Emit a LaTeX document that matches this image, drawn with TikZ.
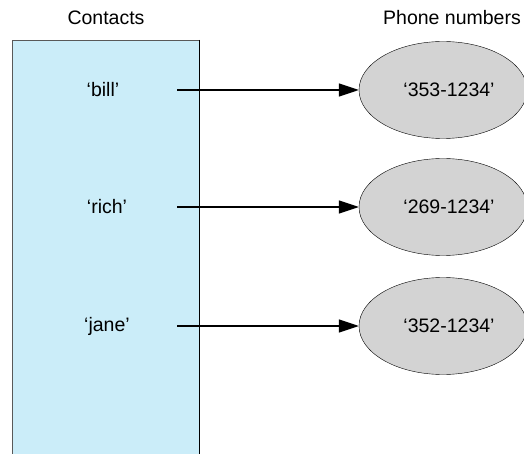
\documentclass[tikz,border=0pt]{standalone}
\usepackage{fontspec}
\setmainfont{Liberation Sans}
\usepackage{tikz}
\usetikzlibrary{arrows}
\usetikzlibrary{shapes.geometric, arrows, arrows.meta, positioning}
\definecolor{contactblue}{HTML}{CBEDF9}
\definecolor{phonegray}{HTML}{D3D3D3}
\tikzstyle{arrow} = [line width=1.4pt,-{Triangle[length=20pt,width=13pt]}]
\tikzstyle{phone} = [ellipse, draw, fill=phonegray, minimum width=168pt, minimum height=97pt, inner sep=0pt]

\begin{document}
\begin{tikzpicture}[x=1pt, y=-1pt, font=\fontsize{19.5}{22}\selectfont]
\useasboundingbox (0,0) rectangle (524,454);
\clip (0,0) rectangle (524,454);

\fill [contactblue] (12,40) rectangle (199,460);
\draw [gray!70!black] (12,460) -- (12,40) -- (199,40);
\draw [black] (199,40) -- (199,460);

\node (contacts) at (106,18) {Contacts};
\node (numbers) at (452,18) {Phone numbers};

\node (a) at (103,90) {`bill'};
\node (b) at (107,207) {`rich'};
\node (c) at (107,326) {`jane'};

\coordinate (a1) at (177,90);
\coordinate (b1) at (177,207);
\coordinate (c1) at (177,326);

\node [phone] (a2) at (443,90) {\hspace*{12pt}`353-1234'};
\node [phone] (b2) at (443,207) {\hspace*{12pt}`269-1234'};
\node [phone] (c2) at (443,326) {\hspace*{12pt}`352-1234'};

\draw [arrow] (a1) to (a2);
\draw [arrow] (b1) to (b2);
\draw [arrow] (c1) to (c2);
\end{tikzpicture}
\end{document}
